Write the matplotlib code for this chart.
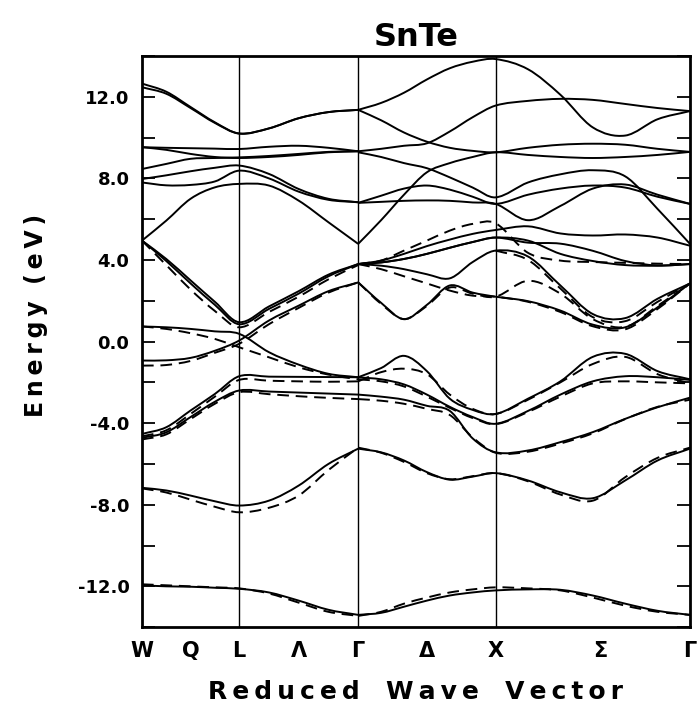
import numpy as np
import matplotlib
matplotlib.use("Agg")
import matplotlib.pyplot as plt
from matplotlib.path import Path
from matplotlib.patches import PathPatch

nan = np.nan

# --- path through the zone (reduced units) ---
k_W, k_L, k_G1, k_X, k_G2 = 0.0, 0.7071, 1.5731, 2.5731, 3.9873
tick_pos = [0.0, 0.3536, 0.7071, 1.1401, 1.5731, 2.0731, 2.5731, 3.333, 3.9873]
tick_lab = ["W", "Q", "L", "Λ", "Γ", "Δ", "X", "Σ", "Γ"]

# sample points: W..L..Γ (9 values) and Γ..X..Γ (13 values)
k_left = np.concatenate([np.linspace(k_W, k_L, 5), np.linspace(k_L, k_G1, 5)[1:]])
k_right = np.concatenate([np.linspace(k_G1, k_X, 7), np.linspace(k_X, k_G2, 7)[1:]])

# --- bands (eV) ---
left_solid = [
    [-11.95, -12.0, -12.02, -12.07, -12.12, -12.3, -12.7, -13.15, -13.4],
    [-7.17, -7.3, -7.55, -7.83, -8.04, -7.8, -7.06, -6.0, -5.25],
    [-4.53, -4.2, -3.38, -2.57, -1.7, -1.72, -1.73, -1.74, -1.75],
    [-4.72, -4.45, -3.7, -2.95, -2.4, -2.45, -2.5, -2.55, -2.6],
    [0.74, 0.7, 0.62, 0.5, 0.38, -0.52, -1.13, -1.58, -1.75],
    [-0.93, -0.92, -0.8, -0.45, 0.05, 1.03, 1.76, 2.47, 2.9],
    [4.95, 4.05, 3.0, 1.95, 0.95, 1.72, 2.47, 3.28, 3.8],
    [4.95, 3.95, 2.85, 1.8, 0.85, 1.6, 2.35, 3.2, 3.8],
    [4.95, 5.93, 7.0, 7.56, 7.73, 7.65, 6.91, 5.85, 4.79],
    [7.8, 7.66, 7.68, 7.85, 8.38, 8.0, 7.35, 6.95, 6.83],
    [7.97, 8.15, 8.35, 8.52, 8.63, 8.22, 7.48, 7.0, 6.83],
    [8.46, 8.71, 8.96, 9.0, 9.03, 9.1, 9.2, 9.3, 9.33],
    [9.53, 9.4, 9.2, 9.05, 9.0, 9.05, 9.15, 9.28, 9.33],
    [9.53, 9.5, 9.48, 9.46, 9.44, 9.55, 9.6, 9.5, 9.33],
    [12.65, 12.25, 11.5, 10.75, 10.2, 10.45, 10.95, 11.25, 11.36],
    [12.47, 12.15, 11.45, 10.72, 10.2, 10.45, 10.95, 11.25, 11.36],
]
left_dashed = [
    [-11.9, -11.95, -12.0, -12.05, -12.1, -12.35, -12.8, -13.25, -13.45],
    [-7.2, -7.4, -7.75, -8.1, -8.37, -8.15, -7.55, -6.3, -5.2],
    [-4.65, -4.35, -3.55, -2.7, -1.88, -1.92, -1.95, -1.97, -1.95],
    [-4.8, -4.55, -3.8, -3.05, -2.48, -2.58, -2.68, -2.76, -2.82],
    [0.74, 0.62, 0.41, 0.13, -0.28, -0.77, -1.26, -1.62, -1.85],
    [-1.18, -1.15, -0.95, -0.55, -0.11, 0.85, 1.65, 2.4, 2.9],
    [4.95, 3.75, 2.55, 1.5, 0.7, 1.45, 2.2, 3.05, 3.75],
]
right_solid = [
    [-13.4, -13.3, -13.0, -12.7, -12.45, -12.3, -12.2, -12.15, -12.17, -12.45, -12.85, -13.2, -13.4],
    [-5.25, -5.43, -5.83, -6.4, -6.77, -6.62, -6.45, -6.81, -7.39, -7.68, -6.81, -5.83, -5.25],
    [-1.75, -1.3, -0.7, -1.45, -2.8, -3.35, -3.55, -2.8, -1.95, -0.75, -0.6, -1.45, -1.85],
    [-2.6, -2.7, -2.85, -3.15, -3.4, -4.75, -5.43, -5.34, -4.93, -4.44, -3.79, -3.22, -2.75],
    [-1.75, -1.85, -2.1, -2.6, -3.2, -3.7, -4.03, -3.4, -2.6, -1.95, -1.7, -1.75, -1.88],
    [2.9, 1.9, 1.1, 1.8, 2.75, 2.4, 2.2, 1.98, 1.52, 0.83, 0.7, 1.68, 2.85],
    [3.8, 3.72, 3.55, 3.3, 3.1, 3.9, 4.46, 4.17, 2.75, 1.35, 1.15, 2.1, 2.85],
    [3.8, 3.88, 4.05, 4.3, 4.6, 4.88, 5.1, 4.85, 4.8, 4.45, 3.95, 3.73, 3.8],
    [3.8, 3.88, 4.05, 4.3, 4.6, 4.88, 5.1, 4.95, 4.3, 3.95, 3.75, 3.72, 3.8],
    [3.8, 3.97, 4.3, 4.68, 5.0, 5.28, 5.47, 5.65, 5.3, 5.2, 5.25, 5.1, 4.7],
    [4.79, 5.95, 7.2, 8.3, 8.75, 9.05, 9.28, 9.15, 9.05, 9.0, 9.05, 9.15, 9.3],
    [9.28, 9.05, 8.75, 8.5, 8.05, 7.55, 7.07, 7.8, 8.2, 8.4, 8.1, 6.5, 4.79],
    [6.8, 7.15, 7.5, 7.65, 7.45, 7.1, 6.75, 7.2, 7.5, 7.65, 7.55, 7.1, 6.75],
    [6.8, 6.85, 6.9, 6.92, 6.9, 6.82, 6.75, 5.95, 6.65, 7.5, 7.7, 7.2, 6.75],
    [11.36, 10.85, 10.25, 9.8, 9.5, 9.35, 9.28, 9.5, 9.65, 9.7, 9.65, 9.45, 9.3],
    [9.33, 9.45, 9.6, 9.72, 10.3, 11.0, 11.57, 11.8, 11.9, 11.85, 11.65, 11.45, 11.3],
    [11.36, 11.7, 12.2, 12.85, 13.4, 13.72, 13.85, 13.35, 12.1, 10.5, 10.1, 10.9, 11.3],
]
right_dashed = [
    [-13.45, -13.25, -12.85, -12.55, -12.3, -12.15, -12.05, -12.1, -12.2, -12.55, -12.95, -13.25, -13.4],
    [-5.2, -5.45, -5.9, -6.45, -6.75, -6.6, -6.45, -6.85, -7.5, -7.8, -6.65, -5.7, -5.2],
    [-1.95, -1.5, -1.33, -1.6, -2.6, -3.3, -3.55, -2.85, -2.0, -1.1, -0.75, -1.6, -2.05],
    [-2.82, -2.9, -3.05, -3.3, -3.6, -4.7, -5.45, -5.4, -5.0, -4.5, -3.8, -3.2, -2.85],
    [-1.85, -1.95, -2.2, -2.7, -3.25, -3.75, -4.05, -3.45, -2.7, -2.05, -1.95, -2.0, -2.05],
    [2.9, 1.85, 1.1, 1.75, 2.65, 2.35, 2.2, 2.98, 2.35, 1.1, 0.72, 1.75, 2.85],
    [3.8, 3.55, 3.2, 2.85, 2.5, 2.25, 2.2, 1.95, 1.45, 0.75, 0.6, 1.6, 2.85],
    [nan, nan, nan, nan, nan, nan, 4.46, 4.0, 2.6, 1.2, 1.0, 1.95, 2.85],
    [3.8, 3.97, 4.46, 4.95, 5.44, 5.77, 5.8, 4.35, 3.97, 3.9, 3.86, 3.82, 3.8],
]


def smooth_path(k, e):
    """Cubic Hermite curve through the points, as a Bezier path."""
    n = len(k)
    m = np.empty(n)
    m[1:-1] = (e[2:] - e[:-2]) / (k[2:] - k[:-2])
    m[0] = (e[1] - e[0]) / (k[1] - k[0])
    m[-1] = (e[-1] - e[-2]) / (k[-1] - k[-2])
    verts = [(k[0], e[0])]
    codes = [Path.MOVETO]
    for i in range(n - 1):
        h = k[i + 1] - k[i]
        verts += [(k[i] + h / 3, e[i] + m[i] * h / 3),
                  (k[i + 1] - h / 3, e[i + 1] - m[i + 1] * h / 3),
                  (k[i + 1], e[i + 1])]
        codes += [Path.CURVE4] * 3
    return Path(verts, codes)


def draw_band(ax, k, e, dashed=False):
    e = np.asarray(e, dtype=float)
    idx = np.flatnonzero(np.isfinite(e))
    # split into runs of finite values
    runs = np.split(idx, np.flatnonzero(np.diff(idx) > 1) + 1)
    for r in runs:
        if len(r) < 2:
            continue
        p = smooth_path(k[r], e[r])
        ax.add_patch(PathPatch(p, fill=False, lw=1.4, color="black",
                               linestyle=(0, (6, 3.5)) if dashed else "-",
                               capstyle="butt"))


fig = plt.figure(figsize=(6.98, 7.2), dpi=100)
ax = fig.add_axes([0.2034, 0.129, 0.7851, 0.7932])

for b in left_solid:
    draw_band(ax, k_left, b)
for b in left_dashed:
    draw_band(ax, k_left, b, dashed=True)
for b in right_solid:
    draw_band(ax, k_right, b)
for b in right_dashed:
    draw_band(ax, k_right, b, dashed=True)

for kv in [k_L, k_G1, k_X]:
    ax.axvline(kv, color="black", lw=1.0)

ax.set_xlim(k_W, k_G2)
ax.set_ylim(-14, 14)

yt = np.arange(-14, 15, 2)
ax.set_yticks(yt)
ax.set_yticklabels([f"{v:.1f}" if (v % 4 == 0 and abs(v) <= 12) else "" for v in yt],
                   fontsize=13, fontweight="bold")
ax.tick_params(axis="y", direction="in", length=9.5, width=1.3, left=True, right=True, pad=9)

ax.set_xticks(tick_pos)
ax.set_xticklabels(tick_lab, fontsize=15, fontweight="bold")
ax.tick_params(axis="x", length=0, pad=10)

for s in ax.spines.values():
    s.set_linewidth(2.0)

ax.set_title("SnTe", fontsize=23, fontweight="bold", pad=7)
ax.set_xlabel("R\u2009e\u2009d\u2009u\u2009c\u2009e\u2009d   W\u2009a\u2009v\u2009e   V\u2009e\u2009c\u2009t\u2009o\u2009r",
              fontsize=18, fontweight="bold", labelpad=14)
ax.set_ylabel("E\u2009n\u2009e\u2009r\u2009g\u2009y  (\u2009e\u2009V\u2009)",
              fontsize=17, fontweight="bold")
ax.yaxis.set_label_coords(-0.172, 0.545)

fig.savefig("out.png", dpi=100)
